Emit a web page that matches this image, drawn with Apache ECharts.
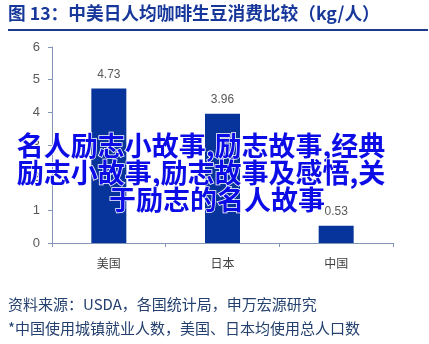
<!DOCTYPE html>
<html><head><meta charset="utf-8">
<script src="https://cdn.jsdelivr.net/npm/echarts@6/dist/echarts.min.js"></script>
<style>html,body{margin:0;padding:0;background:#fff}#c{width:429px;height:344px}</style>
</head><body><div id="c"></div>
<script>
var categories = ['美国', '日本', '中国'];
var values = [4.73, 3.96, 0.53];
var yTicks = [0, 1, 2, 3, 4, 5, 6];
var titleText = '图 13：中美日人均咖啡生豆消费比较（kg/人）';
var sourceText = '资料来源：USDA，各国统计局，申万宏源研究';
var noteText = '*中国使用城镇就业人数，美国、日本均使用总人口数';
var overlayLines = ['名人励志小故事,励志故事,经典', '励志小故事,励志故事及感悟,关', '于励志的名人故事'];

var font = '"Noto Sans CJK SC", "Noto Sans", sans-serif';
var chart = echarts.init(document.getElementById('c'));
chart.setOption({
  animation: false,
  backgroundColor: '#fff',
  grid: {left: 52, right: 36, top: 47, bottom: 101},
  xAxis: {
    type: 'category', data: categories,
    axisLine: {lineStyle: {color: '#8395B8', width: 1}},
    axisTick: {show: true, length: 4, lineStyle: {color: '#8395B8'}},
    axisLabel: {color: '#404040', fontSize: 12, margin: 14, fontFamily: font}
  },
  yAxis: {
    type: 'value', min: yTicks[0], max: yTicks[yTicks.length - 1], interval: 1,
    axisLine: {show: true, lineStyle: {color: '#8395B8', width: 1}},
    axisTick: {show: true, length: 4, lineStyle: {color: '#8395B8'}},
    splitLine: {show: false},
    axisLabel: {color: '#595959', fontSize: 13, margin: 12, fontFamily: 'Arial, "Liberation Sans", sans-serif'}
  },
  series: [{
    type: 'bar', data: values, barWidth: 35,
    itemStyle: {color: '#07349A'},
    label: {show: true, position: 'top', distance: 8, color: '#595959', fontSize: 12,
      fontFamily: 'Arial, "Liberation Sans", sans-serif',
      formatter: function (p) { return p.value.toFixed(2); }}
  }],
  graphic: [
    {type: 'text', left: 8, top: 4, style: {text: titleText, fill: '#17389A', font: 'bold 17.7px ' + font}},
    {type: 'rect', shape: {x: 8, y: 29, width: 420, height: 2}, style: {fill: '#1F3C8C'}},
    {type: 'text', left: 8, top: 297, style: {text: sourceText, fill: '#24406E', font: '15px ' + font}},
    {type: 'text', left: 8, top: 321, style: {text: noteText, fill: '#24406E', font: '15px ' + font}},
    {type: 'text', x: 201, y: 146, style: {text: overlayLines[0], fill: '#0C0CE6', font: 'bold 27px ' + font, textAlign: 'center', textVerticalAlign: 'middle', stroke: '#fff', lineWidth: 1.5}, z: 100},
    {type: 'text', x: 201, y: 173, style: {text: overlayLines[1], fill: '#0C0CE6', font: 'bold 27px ' + font, textAlign: 'center', textVerticalAlign: 'middle', stroke: '#fff', lineWidth: 1.5}, z: 100},
    {type: 'text', x: 217, y: 200, style: {text: overlayLines[2], fill: '#0C0CE6', font: 'bold 27px ' + font, textAlign: 'center', textVerticalAlign: 'middle', stroke: '#fff', lineWidth: 1.5}, z: 100}
  ]
});
</script></body></html>
